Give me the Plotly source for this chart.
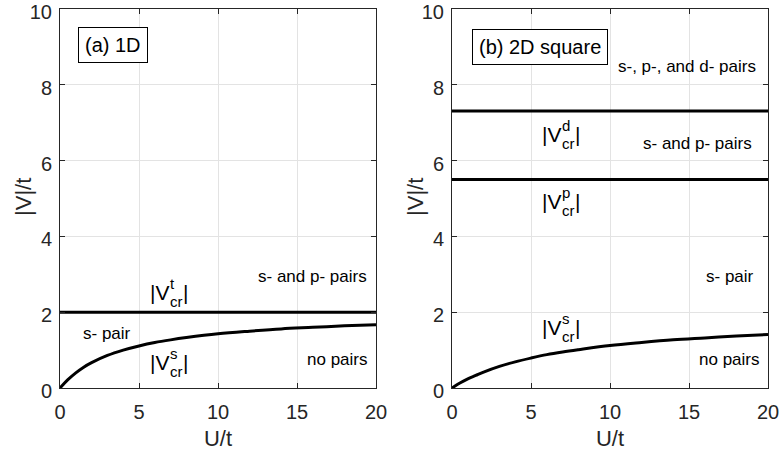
import plotly.graph_objects as go

# Critical coupling curves |V_cr^s|(U) for the two lattices
u_vals = [0, 0.5, 1, 1.5, 2, 3, 4, 5, 6, 7, 8, 10, 12, 14, 16, 18, 20]
vs_1d = [0, 0.22, 0.40, 0.55, 0.67, 0.86, 1.00, 1.11, 1.20, 1.27, 1.33,
         1.43, 1.50, 1.56, 1.60, 1.64, 1.67]
vs_2d = [0, 0.13, 0.24, 0.33, 0.42, 0.57, 0.69, 0.79, 0.88, 0.95, 1.01,
         1.12, 1.20, 1.27, 1.32, 1.37, 1.41]

# Flat thresholds
vt_1d = 2.0
vp_2d = 5.50
vd_2d = 7.31

u_range = [0, 20]
v_range = [0, 10]
x_ticks = [0, 5, 10, 15, 20]
y_ticks = [0, 2, 4, 6, 8, 10]

FONT = "Liberation Sans, Arial, Helvetica, sans-serif"
AX_COLOR = "#262626"
GRID = "#e3e3e3"
TICK_SIZE = 20
TITLE_SIZE = 22

fig = go.Figure()

line_style = dict(color="black", width=3)
fig.add_trace(go.Scatter(x=u_vals, y=vs_1d, mode="lines", line=dict(shape="spline", **line_style),
                         xaxis="x", yaxis="y", showlegend=False, hoverinfo="skip"))
fig.add_trace(go.Scatter(x=u_range, y=[vt_1d, vt_1d], mode="lines", line=line_style,
                         xaxis="x", yaxis="y", showlegend=False, hoverinfo="skip"))
fig.add_trace(go.Scatter(x=u_vals, y=vs_2d, mode="lines", line=dict(shape="spline", **line_style),
                         xaxis="x2", yaxis="y2", showlegend=False, hoverinfo="skip"))
fig.add_trace(go.Scatter(x=u_range, y=[vp_2d, vp_2d], mode="lines", line=line_style,
                         xaxis="x2", yaxis="y2", showlegend=False, hoverinfo="skip"))
fig.add_trace(go.Scatter(x=u_range, y=[vd_2d, vd_2d], mode="lines", line=line_style,
                         xaxis="x2", yaxis="y2", showlegend=False, hoverinfo="skip"))

y_dom = [69 / 457, 448 / 457]


def xaxis(dom, anchor):
    return dict(domain=dom, anchor=anchor, range=u_range, tickvals=x_ticks,
                ticks="inside", ticklen=5, tickcolor=AX_COLOR, mirror="ticks",
                showline=True, linecolor=AX_COLOR, linewidth=1, automargin=False,
                showgrid=True, gridcolor=GRID, gridwidth=1, zeroline=False,
                ticklabelstandoff=6, ticklabeloverflow="allow",
                tickfont=dict(family=FONT, size=TICK_SIZE, color=AX_COLOR),
                title=dict(text="U/t", font=dict(family=FONT, size=TITLE_SIZE, color=AX_COLOR),
                           standoff=8))


def yaxis(anchor):
    return dict(domain=y_dom, anchor=anchor, range=v_range, tickvals=y_ticks,
                ticks="inside", ticklen=5, tickcolor=AX_COLOR, mirror="ticks",
                showline=True, linecolor=AX_COLOR, linewidth=1, automargin=False,
                showgrid=True, gridcolor=GRID, gridwidth=1, zeroline=False,
                ticklabelstandoff=3, ticklabelshift=3, ticklabeloverflow="allow",
                tickfont=dict(family=FONT, size=TICK_SIZE, color=AX_COLOR))


annotations = []


def text(xref, yref, x, y, s, size=17, color="black", **kw):
    annotations.append(dict(xref=xref, yref=yref, x=x, y=y, text=s, showarrow=False,
                            font=dict(family=FONT, size=size, color=color), **kw))


def vcrit(xref, yref, x, y, sup):
    # |V| with stacked superscript and "cr" subscript
    text(xref, yref, x, y, "|V", size=21, xanchor="left", yanchor="middle")
    text(xref, yref, x, y, sup, size=15, xanchor="left", yanchor="middle", xshift=20, yshift=9)
    text(xref, yref, x, y, "cr", size=15, xanchor="left", yanchor="middle", xshift=20, yshift=-9)
    text(xref, yref, x, y, "|", size=21, xanchor="left", yanchor="middle", xshift=33)


# Vertical axis titles
for px in (24, 416):
    text("paper", "paper", px / 782, 1 - 197 / 457, "|V|/t", size=TITLE_SIZE, color=AX_COLOR,
         textangle=-90, xanchor="center", yanchor="middle")

# Panel (a): 1D chain
text("x", "y", 3.35, 9.04, "(a) 1D", size=20, bordercolor="black", borderwidth=1,
     borderpad=6, bgcolor="white")
text("x", "y", 16.0, 2.95, "s- and p- pairs")
text("x", "y", 3.0, 1.43, "s- pair")
text("x", "y", 17.5, 0.75, "no pairs")
vcrit("x", "y", 5.57, 2.51, "t")
vcrit("x", "y", 5.57, 0.66, "s")

# Panel (b): 2D square lattice
text("x2", "y2", 5.57, 9.0, "(b) 2D square", size=20, bordercolor="black", borderwidth=1,
     borderpad=6, bgcolor="white")
text("x2", "y2", 14.85, 8.47, "s-, p-, and d- pairs")
text("x2", "y2", 15.55, 6.45, "s- and p- pairs")
text("x2", "y2", 17.6, 2.93, "s- pair")
text("x2", "y2", 17.5, 0.75, "no pairs")
vcrit("x2", "y2", 5.57, 6.69, "d")
vcrit("x2", "y2", 5.57, 4.92, "p")
vcrit("x2", "y2", 5.57, 1.60, "s")

fig.update_layout(
    width=782, height=457,
    margin=dict(l=0, r=0, t=0, b=0),
    paper_bgcolor="white", plot_bgcolor="white",
    xaxis=xaxis([60 / 782, 376 / 782], "y"),
    yaxis=yaxis("x"),
    xaxis2=xaxis([452 / 782, 768 / 782], "y2"),
    yaxis2=yaxis("x2"),
    annotations=annotations,
)

fig.write_html("out.html")
